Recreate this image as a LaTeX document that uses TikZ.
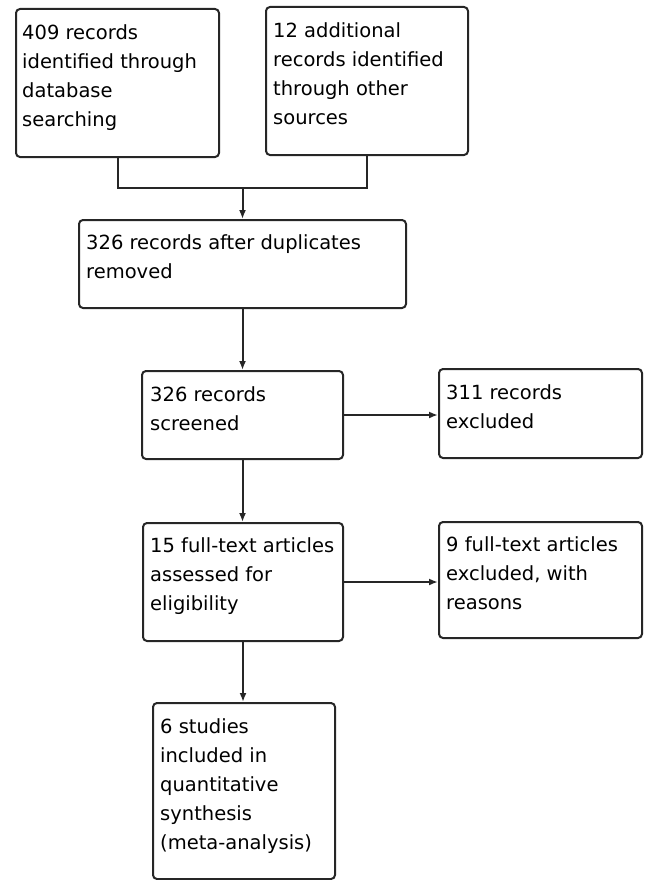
\documentclass[tikz,border=0pt]{standalone}
\usepackage{fontspec}
\setmainfont{DejaVu Sans}
\usetikzlibrary{arrows.meta,calc}
\begin{document}
\begin{tikzpicture}[x=1pt,y=1pt,
  box/.style={draw=black!85,line width=2pt,rounded corners=4pt,inner sep=0pt},
  txt/.style={anchor=north west,align=left,inner sep=0pt,font=\fontsize{19.5}{29}\selectfont},
  conn/.style={draw=black!85,line width=2pt},
  arr/.style={conn,-{Latex[length=9pt,width=7pt]}}]
\useasboundingbox (0,0) rectangle (649,-880);
% boxes
\node[box,minimum width=203pt,minimum height=148pt] (A) at (117.5,-83) {};
\node[box,minimum width=202pt,minimum height=148pt] (B) at (367,-81) {};
\node[box,minimum width=327pt,minimum height=88pt] (C) at (242.5,-264) {};
\node[box,minimum width=201pt,minimum height=88pt] (D) at (242.5,-415) {};
\node[box,minimum width=203pt,minimum height=89pt] (E) at (540.5,-413.5) {};
\node[box,minimum width=200pt,minimum height=118pt] (F) at (243,-582) {};
\node[box,minimum width=203pt,minimum height=116pt] (G) at (540.5,-580) {};
\node[box,minimum width=182pt,minimum height=176pt] (H) at (244,-791) {};
% texts
\node[txt] (tA) at ($(A.north west)+(7,-16)$) {409 records\\identified through\\database\\searching};
\node[txt] (tB) at ($(B.north west)+(8,-16)$) {12 additional\\records identified\\through other\\sources};
\node[txt] (tC) at ($(C.north west)+(8,-15)$) {326 records after duplicates\\removed};
\node[txt] (tD) at ($(D.north west)+(9,-16)$) {326 records\\screened};
\node[txt] (tE) at ($(E.north west)+(8,-16)$) {311 records\\excluded};
\node[txt] (tF) at ($(F.north west)+(8,-15)$) {15 full-text articles\\assessed for\\eligibility};
\node[txt] (tG) at ($(G.north west)+(8,-15)$) {9 full-text articles\\excluded, with\\reasons};
\node[txt] (tH) at ($(H.north west)+(8,-16)$) {6 studies\\included in\\quantitative\\synthesis\\(meta-analysis)};
% connectors
\coordinate (m) at ($(C.north)+(0,31)$);
\draw[conn] (A.south) |- (m) -| (B.south);
\draw[arr] (m) -- (C.north);
\draw[arr] (C.south) -- (D.north);
\draw[arr] (D.east) -- (D.east -| E.west);
\draw[arr] (D.south) -- (D.south |- F.north);
\draw[arr] (F.east) -- (F.east -| G.west);
\draw[arr] (F.south) -- (F.south |- H.north);
\end{tikzpicture}
\end{document}
